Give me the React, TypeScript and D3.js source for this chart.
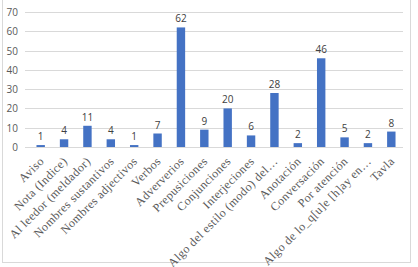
import React, { useEffect, useRef } from 'react';
import * as d3 from 'd3';

// categories and counts
const labels = [
  'Aviso', 'Nota (Indice)', 'Al leedor (meldador)', 'Nombres sustantivos', 'Nombres adjectivos',
  'Verbos', 'Adververios', 'Prepusiciones', 'Conjunciones', 'Interjeciones',
  'Algo del estilo (modo) del…', 'Anotación', 'Conversación', 'Por atención',
  'Algo de lo_q[u]e [h]ay en…', 'Tavla',
];
const values = [1, 4, 11, 4, 1, 7, 62, 9, 20, 6, 28, 2, 46, 5, 2, 8];
const yTicks = [0, 10, 20, 30, 40, 50, 60, 70];

export default function App() {
  const svgRef = useRef(null);

  const W = 418;
  const H = 267;
  const margin = { top: 12, right: 15, bottom: 120, left: 29 };

  useEffect(() => {
    d3.select(svgRef.current).selectAll('*').remove();
    const svg = d3.select(svgRef.current);

    // outer frame
    svg.append('rect')
      .attr('x', 2.5).attr('y', -1).attr('width', 408).attr('height', 263.5)
      .attr('fill', 'none').attr('stroke', '#d9d9d9');

    const data = values.map((v, i) => ({ label: labels[i], value: v }));

    const x = d3.scaleBand()
      .range([margin.left, W - margin.right])
      .domain(data.map((d) => d.label))
      .paddingInner(0.64)
      .paddingOuter(0.32);

    const y = d3.scaleLinear()
      .range([147, margin.top])
      .domain([0, 70]);

    // gridlines
    svg.append('g')
      .selectAll('line')
      .data(yTicks)
      .enter()
      .append('line')
      .attr('x1', 25)
      .attr('x2', 403)
      .attr('y1', (d) => Math.round(y(d)) + 0.5)
      .attr('y2', (d) => Math.round(y(d)) + 0.5)
      .attr('stroke', '#d9d9d9');

    // y tick labels
    svg.append('g')
      .selectAll('text')
      .data(yTicks)
      .enter()
      .append('text')
      .attr('x', 18)
      .attr('y', (d) => y(d) + 4)
      .attr('text-anchor', 'end')
      .attr('font-family', 'Open Sans, sans-serif')
      .attr('font-size', '10px')
      .style('fill', '#595959')
      .text((d) => d);

    // bars
    svg.append('g')
      .selectAll('rect')
      .data(data)
      .enter()
      .append('rect')
      .attr('x', (d) => x(d.label))
      .attr('y', (d) => y(d.value))
      .attr('width', x.bandwidth())
      .attr('height', (d) => y(0) - y(d.value))
      .attr('fill', '#4472C4');

    // value labels
    svg.append('g')
      .selectAll('text')
      .data(data)
      .enter()
      .append('text')
      .attr('x', (d) => x(d.label) + x.bandwidth() / 2)
      .attr('y', (d) => y(d.value) - 5)
      .attr('text-anchor', 'middle')
      .attr('font-family', 'Open Sans, sans-serif')
      .attr('font-size', '10px')
      .style('fill', '#404040')
      .text((d) => d.value);

    // category labels, rotated
    svg.append('g')
      .selectAll('text')
      .data(data)
      .enter()
      .append('text')
      .attr('transform', (d) => `translate(${x(d.label) + x.bandwidth() / 2 + 1},${y(0) + 12}) rotate(-45)`)
      .attr('text-anchor', 'end')
      .attr('dy', '0.35em')
      .attr('font-family', 'Liberation Serif, serif')
      .attr('font-size', '12px')
      .attr('letter-spacing', '0.4px')
      .style('fill', '#595959')
      .text((d) => d.label);
  }, []);

  return (
    <div style={{ position: 'absolute', left: 0, top: 0 }}>
      <svg ref={svgRef} width={W} height={H} style={{ display: 'block', background: '#fff' }} />
    </div>
  );
}
